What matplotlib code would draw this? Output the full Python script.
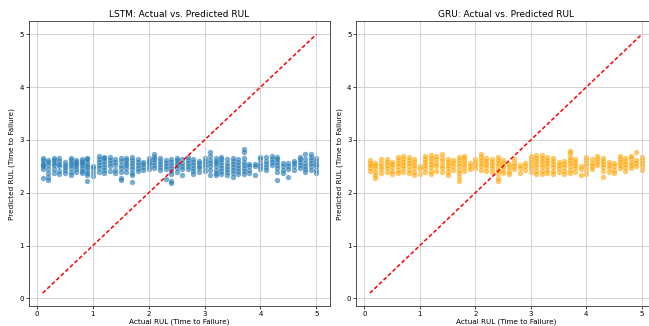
import matplotlib.pyplot as plt
import numpy as np

# actual RUL steps (x columns)
actual_steps = [0.1, 0.2, 0.3, 0.4, 0.5, 0.6, 0.7, 0.8, 0.9, 1.0,
                1.1, 1.2, 1.3, 1.4, 1.5, 1.6, 1.7, 1.8, 1.9, 2.0,
                2.1, 2.2, 2.3, 2.4, 2.5, 2.6, 2.7, 2.8, 2.9, 3.0,
                3.1, 3.2, 3.3, 3.4, 3.5, 3.6, 3.7, 3.8, 3.9, 4.0,
                4.1, 4.2, 4.3, 4.4, 4.5, 4.6, 4.7, 4.8, 4.9, 5.0]

# predicted RUL per actual step
lstm_pred = [
    [2.28, 2.45, 2.50, 2.53, 2.57, 2.62, 2.65],
    [2.25, 2.30, 2.38, 2.45, 2.52, 2.58, 2.62],
    [2.38, 2.45, 2.52, 2.56, 2.62, 2.66],
    [2.36, 2.42, 2.50, 2.55, 2.60, 2.66],
    [2.38, 2.44, 2.48, 2.53, 2.58],
    [2.33, 2.40, 2.46, 2.52, 2.57, 2.62, 2.66],
    [2.40, 2.45, 2.50, 2.54, 2.58, 2.62],
    [2.37, 2.42, 2.47, 2.52, 2.56, 2.60, 2.64],
    [2.22, 2.33, 2.38, 2.43, 2.48, 2.53, 2.58, 2.63, 2.66],
    [2.32, 2.40, 2.46, 2.51],
    [2.40, 2.46, 2.52, 2.58, 2.64, 2.69],
    [2.38, 2.44, 2.49, 2.55, 2.60, 2.65, 2.68],
    [2.42, 2.50, 2.57, 2.62, 2.67],
    [2.37, 2.43, 2.52, 2.59, 2.64],
    [2.24, 2.28, 2.40, 2.47, 2.53, 2.60, 2.65],
    [2.40, 2.46, 2.52, 2.57, 2.62, 2.66],
    [2.20, 2.33, 2.38, 2.45, 2.51, 2.56, 2.62, 2.68],
    [2.41, 2.47, 2.53, 2.58, 2.63],
    [2.43, 2.49, 2.54, 2.59],
    [2.45, 2.50, 2.56, 2.61, 2.66],
    [2.47, 2.52, 2.58, 2.63, 2.68, 2.73],
    [2.43, 2.49, 2.55, 2.60, 2.66],
    [2.26, 2.45, 2.50, 2.56, 2.62],
    [2.18, 2.22, 2.35, 2.41, 2.47, 2.52, 2.58, 2.64],
    [2.40, 2.46, 2.52, 2.57, 2.62, 2.65],
    [2.33, 2.45, 2.51, 2.57, 2.63],
    [2.45, 2.50, 2.56, 2.62, 2.67],
    [2.36, 2.42, 2.47, 2.53, 2.58, 2.63],
    [2.40, 2.46, 2.51, 2.56, 2.61],
    [2.42, 2.48, 2.54, 2.60, 2.65],
    [2.34, 2.44, 2.50, 2.56, 2.62, 2.70, 2.78],
    [2.33, 2.38, 2.44, 2.50, 2.56, 2.61, 2.66],
    [2.36, 2.42, 2.47, 2.53, 2.59, 2.64, 2.68],
    [2.33, 2.39, 2.45, 2.51, 2.57, 2.63],
    [2.30, 2.37, 2.43, 2.49, 2.55, 2.61, 2.66],
    [2.35, 2.41, 2.47, 2.53, 2.59, 2.63],
    [2.35, 2.41, 2.47, 2.53, 2.59, 2.65, 2.78, 2.83],
    [2.37, 2.44, 2.50, 2.55],
    [2.34, 2.50, 2.55],
    [2.45, 2.51, 2.57, 2.63, 2.67],
    [2.43, 2.49, 2.55, 2.61, 2.67],
    [2.52, 2.58, 2.64, 2.70],
    [2.25, 2.40, 2.46, 2.52, 2.58, 2.63, 2.67],
    [2.38, 2.44, 2.50, 2.56],
    [2.30, 2.45, 2.51, 2.57],
    [2.44, 2.50, 2.56, 2.61],
    [2.47, 2.53, 2.58, 2.63, 2.68],
    [2.39, 2.45, 2.51, 2.57, 2.63, 2.73],
    [2.44, 2.50, 2.56, 2.62, 2.68, 2.73],
    [2.38, 2.44, 2.50, 2.55, 2.60, 2.65],
]

gru_pred = [
    [2.42, 2.47, 2.52, 2.57, 2.62],
    [2.27, 2.33, 2.40, 2.46, 2.52, 2.57],
    [2.38, 2.45, 2.51, 2.57, 2.63],
    [2.40, 2.47, 2.53, 2.59, 2.64],
    [2.36, 2.42, 2.48, 2.54, 2.58],
    [2.38, 2.44, 2.50, 2.56, 2.62, 2.67],
    [2.40, 2.46, 2.52, 2.58, 2.64, 2.69],
    [2.38, 2.44, 2.50, 2.56, 2.62, 2.68],
    [2.34, 2.40, 2.46, 2.52, 2.58, 2.64],
    [2.35, 2.45, 2.51],
    [2.40, 2.46, 2.52, 2.58, 2.64, 2.70],
    [2.36, 2.42, 2.48, 2.54, 2.60, 2.66, 2.71],
    [2.42, 2.50, 2.57, 2.64, 2.70],
    [2.40, 2.47, 2.53, 2.60, 2.66, 2.73],
    [2.33, 2.40, 2.46, 2.52, 2.58, 2.64],
    [2.44, 2.50, 2.56, 2.62],
    [2.23, 2.30, 2.38, 2.44, 2.50, 2.56, 2.62, 2.67],
    [2.42, 2.48, 2.54, 2.60, 2.66, 2.70],
    [2.45, 2.51, 2.57],
    [2.46, 2.52, 2.58, 2.63],
    [2.44, 2.50, 2.56, 2.62, 2.68, 2.73],
    [2.42, 2.48, 2.54, 2.60, 2.66],
    [2.40, 2.46, 2.52, 2.58, 2.64],
    [2.22, 2.27, 2.38, 2.44, 2.50, 2.56, 2.62, 2.67],
    [2.38, 2.44, 2.50, 2.56, 2.62],
    [2.35, 2.42, 2.48, 2.54],
    [2.45, 2.51, 2.57, 2.63],
    [2.38, 2.47, 2.53],
    [2.44, 2.50, 2.56],
    [2.40, 2.46, 2.52, 2.58, 2.64, 2.69],
    [2.36, 2.42, 2.48, 2.54, 2.60, 2.66, 2.72],
    [2.36, 2.42, 2.48, 2.54, 2.60, 2.66, 2.71],
    [2.38, 2.44, 2.50, 2.56, 2.62, 2.68],
    [2.36, 2.42, 2.48, 2.54, 2.60, 2.66],
    [2.40, 2.46, 2.52, 2.58],
    [2.36, 2.42, 2.48, 2.54, 2.60],
    [2.38, 2.44, 2.50, 2.56, 2.62, 2.67, 2.75, 2.79],
    [2.40, 2.46, 2.52, 2.58, 2.64],
    [2.33, 2.45, 2.51],
    [2.36, 2.44, 2.50, 2.56, 2.62, 2.67],
    [2.45, 2.51, 2.57, 2.63],
    [2.52, 2.58, 2.64, 2.69],
    [2.30, 2.42, 2.48, 2.54, 2.60, 2.66],
    [2.40, 2.46, 2.52, 2.58],
    [2.38, 2.44, 2.50, 2.56],
    [2.46, 2.52, 2.58, 2.64, 2.70],
    [2.42, 2.48, 2.54, 2.60, 2.66],
    [2.47, 2.53, 2.59, 2.65, 2.70],
    [2.50, 2.56, 2.62, 2.78],
    [2.44, 2.50, 2.56, 2.62, 2.67],
]

titles = ['LSTM: Actual vs. Predicted RUL', 'GRU: Actual vs. Predicted RUL']
colors = ['#1f77b4', 'orange']


def flatten(steps, preds):
    xs, ys = [], []
    for x, col in zip(steps, preds):
        xs += [x] * len(col)
        ys += col
    return np.array(xs), np.array(ys)


fig = plt.figure(figsize=(6.49, 3.26), dpi=100)
W, H = 649, 326
# axes boxes in pixels: left, bottom(from top), right, top(from top)
boxes = [(29, 306, 330, 21.4), (356.3, 306, 655.4, 21.4)]

for i, preds in enumerate([lstm_pred, gru_pred]):
    l, b, r, t = boxes[i]
    ax = fig.add_axes([l / W, (H - b) / H, (r - l) / W, (b - t) / H])
    xs, ys = flatten(actual_steps, preds)
    ax.scatter(xs, ys, s=15, alpha=0.6, color=colors[i], linewidths=0)
    ax.plot([min(actual_steps), max(actual_steps)],
            [min(actual_steps), max(actual_steps)], color='red',
            ls=(0, (2.6, 1.5)), lw=1.1)
    ax.set_title(titles[i], fontsize=6.5, pad=3)
    ax.set_xlabel('Actual RUL (Time to Failure)', fontsize=5.2, labelpad=1.5)
    ax.set_ylabel('Predicted RUL (Time to Failure)', fontsize=5.2, labelpad=3)
    ax.tick_params(labelsize=5, length=2, width=0.5, pad=1.5)
    ax.grid(True, color='#cccccc', lw=0.6)
    for sp in ax.spines.values():
        sp.set_linewidth(0.6)
        sp.set_color('#333333')

fig.savefig('out.png', dpi=100)
